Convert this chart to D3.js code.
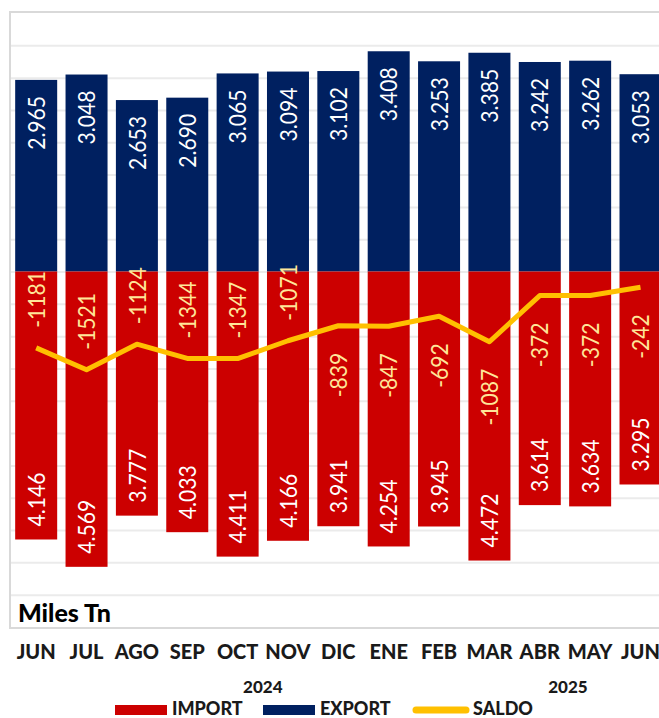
<!DOCTYPE html>
<html lang="es">
<head>
	<meta charset="UTF-8">
	<title>Import / Export / Saldo</title>
	<style>
		html, body { margin: 0; padding: 0; background: #fff; }
		svg { display: block; font-family: Lato, "Open Sans", sans-serif; }
	</style>
</head>
<body>
	<svg id="chart" width="659" height="718"></svg>
<script src="https://cdn.jsdelivr.net/npm/d3@7"></script>
<script>
	// datos (miles de toneladas)
	let months = ["JUN","JUL","AGO","SEP","OCT","NOV","DIC","ENE","FEB","MAR","ABR","MAY","JUN"]
	let exportVals = [2965, 3048, 2653, 2690, 3065, 3094, 3102, 3408, 3253, 3385, 3242, 3262, 3053]
	let importVals = [4146, 4569, 3777, 4033, 4411, 4166, 3941, 4254, 3945, 4472, 3614, 3634, 3295]
	let saldoVals = [-1181, -1521, -1124, -1344, -1347, -1071, -839, -847, -692, -1087, -372, -372, -242]
	let saldoLabelSide = ["up","up","up","up","up","up","down","down","down","down","down","down","down"]
	let years = ["2024", "2025"]
	let yearPos = [5.0, 11.06] // posición en unidades de categoría

	let svg = d3.select("#chart")
	let plot = {left: 11, top: 13, bottom: 627, step: 50.36}
	plot.right = plot.left + plot.step * months.length

	let x = d3.scaleBand()
		.domain(d3.range(months.length))
		.range([plot.left, plot.right])
		.paddingInner(0.166)
		.paddingOuter(0.083)
	let y = d3.scaleLinear()
		.domain([-5500, 4000])
		.range([plot.bottom, plot.top])
	let cx = i => x(i) + x.bandwidth() / 2

	let fmt = d3.formatLocale({decimal: ",", thousands: ".", grouping: [3], currency: ["", ""], minus: "-"})
	let thousands = fmt.format(",")
	let plain = fmt.format("d")

	// rejilla
	let grid = svg.append("g")
		.attr("transform", "translate(" + plot.left + ",0)")
		.call(d3.axisLeft(y)
			.tickValues(d3.range(-5000, 4000, 500))
			.tickSize(-(plot.right - plot.left))
			.tickFormat(""))
	grid.select(".domain").remove()
	grid.selectAll("line").attr("stroke", "#ebebeb").attr("stroke-width", 2)

	svg.append("rect")
		.attr("x", plot.left - 1).attr("y", plot.top - 1)
		.attr("width", plot.right - plot.left + 2)
		.attr("height", plot.bottom - plot.top + 2)
		.attr("fill", "none")
		.attr("stroke", "#d9d9d9")
		.attr("stroke-width", 2)

	// barras
	svg.append("g").selectAll("rect")
		.data(exportVals)
		.enter().append("rect")
		.attr("x", (d, i) => x(i))
		.attr("width", x.bandwidth())
		.attr("y", d => y(d))
		.attr("height", d => y(0) - y(d))
		.attr("fill", "#002060")

	svg.append("g").selectAll("rect")
		.data(importVals)
		.enter().append("rect")
		.attr("x", (d, i) => x(i))
		.attr("width", x.bandwidth())
		.attr("y", y(0))
		.attr("height", d => y(-d) - y(0))
		.attr("fill", "#cc0000")

	// etiquetas de barras
	function vlabel(g, data, posFn, anchor, text, color) {
		g.selectAll("text")
			.data(data)
			.enter().append("text")
			.attr("transform", (d, i) => "translate(" + cx(i) + "," + posFn(d, i) + ") rotate(-90) scale(0.88,1)")
			.attr("text-anchor", anchor)
			.attr("dy", "0.36em")
			.attr("fill", color)
			.style("font-size", "24px")
			.text(text)
	}
	vlabel(svg.append("g"), exportVals, d => y(d) + 16, "end", d => thousands(d), "#ffffff")
	vlabel(svg.append("g"), importVals, d => y(-d) - 13, "start", d => thousands(d), "#ffffff")

	// saldo
	let line = d3.line()
		.x((d, i) => cx(i))
		.y(d => y(d))
	svg.append("path")
		.datum(saldoVals)
		.attr("d", line)
		.attr("fill", "none")
		.attr("stroke", "#ffc000")
		.attr("stroke-width", 5)
		.attr("stroke-linejoin", "round")

	svg.append("g").selectAll("text")
		.data(saldoVals)
		.enter().append("text")
		.attr("transform", (d, i) => {
			let yy = saldoLabelSide[i] == "up" ? y(d) - 20 : y(d) + 27
			return "translate(" + cx(i) + "," + yy + ") rotate(-90) scale(0.88,1)"
		})
		.attr("text-anchor", (d, i) => saldoLabelSide[i] == "up" ? "start" : "end")
		.attr("dy", "0.36em")
		.attr("fill", "#ffe699")
		.style("font-size", "24px")
		.text(d => plain(d))

	// título de unidades
	svg.append("text")
		.attr("x", 18).attr("y", 622)
		.style("font-size", "25px")
		.style("font-weight", "900")
		.attr("fill", "#000")
		.text("Miles Tn")

	// eje de categorías
	svg.append("g").selectAll("text")
		.data(months)
		.enter().append("text")
		.attr("x", (d, i) => cx(i))
		.attr("y", 659)
		.attr("text-anchor", "middle")
		.style("font-size", "20px")
		.style("font-weight", "900")
		.attr("fill", "#1a1a1a")
		.text(d => d)

	svg.append("g").selectAll("text")
		.data(years)
		.enter().append("text")
		.attr("x", (d, i) => plot.left + yearPos[i] * plot.step)
		.attr("y", 693)
		.attr("text-anchor", "middle")
		.style("font-size", "17px")
		.style("font-weight", "900")
		.attr("fill", "#1a1a1a")
		.text(d => d)

	// leyenda
	let legend = svg.append("g")
	let items = [
		{name: "IMPORT", color: "#cc0000", kind: "rect", x: 115},
		{name: "EXPORT", color: "#002060", kind: "rect", x: 263},
		{name: "SALDO", color: "#ffc000", kind: "line", x: 413}
	]
	items.forEach(it => {
		if (it.kind == "rect") {
			legend.append("rect").attr("x", it.x).attr("y", 705).attr("width", 52).attr("height", 10).attr("fill", it.color)
		} else {
			legend.append("line").attr("x1", it.x + 3).attr("x2", it.x + 53).attr("y1", 710).attr("y2", 710)
				.attr("stroke", it.color).attr("stroke-width", 7).attr("stroke-linecap", "round")
		}
		legend.append("text")
			.attr("x", it.x + (it.kind == "rect" ? 57 : 60)).attr("y", 715)
			.attr("fill", "#1a1a1a")
			.style("font-size", "18px")
			.style("font-weight", "900")
			.text(it.name)
	})
</script>
</body>
</html>
